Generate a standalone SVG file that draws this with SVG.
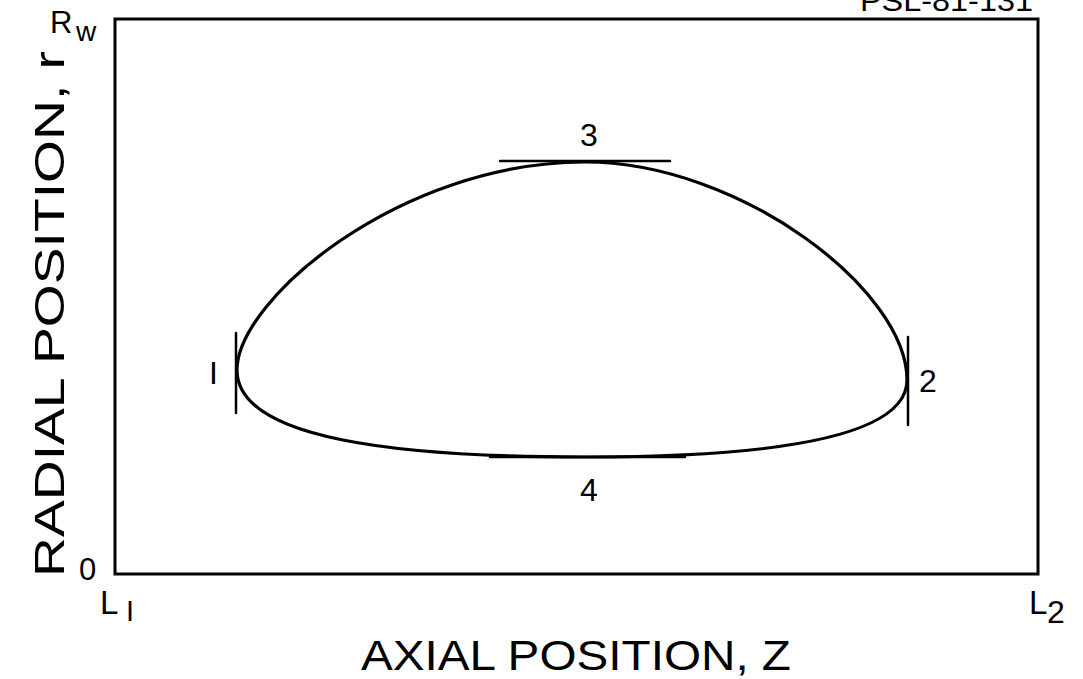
<svg xmlns="http://www.w3.org/2000/svg" width="1083" height="679" viewBox="0 0 1083 679">
<style>
text{font-family:"Liberation Sans","DejaVu Sans",sans-serif;fill:#000}
.big{font-size:42px}
.lbl{font-size:32px}
.ln{stroke:#000;fill:none;stroke-linecap:round}
</style>
<rect width="1083" height="679" fill="#fff"/>
<g id="frame">
<rect x="115" y="19" width="923" height="555" class="ln" stroke-width="3"/>
</g>
<g id="axis-labels">
<text x="860" y="11" font-size="30" textLength="173" lengthAdjust="spacingAndGlyphs">PSL-81-131</text>
<text x="50" y="33" font-size="31">R</text>
<text x="76" y="41" font-size="28">w</text>
<text x="79" y="580" font-size="31">0</text>
<text x="100" y="614" font-size="33">L</text>
<text x="126" y="621" font-size="29">I</text>
<text x="1029" y="614" font-size="33">L</text>
<text x="1047" y="623" font-size="32">2</text>
<text class="big" x="576" y="670" text-anchor="middle" textLength="430" lengthAdjust="spacingAndGlyphs">AXIAL POSITION, Z</text>
<text class="big" transform="translate(64,314) rotate(-90)" text-anchor="middle" textLength="526" lengthAdjust="spacingAndGlyphs">RADIAL POSITION, r</text>
</g>
<g id="curve">
<path class="ln" stroke-width="3.2" d="M237,370 C237,300 400,162 585,162 C740,162 907,290 907,380 C907,440 760,457 585,457 C400,457 237,440 237,370 Z"/>
</g>
<g id="connectors">
<line class="ln" stroke-width="2.5" x1="236" y1="333" x2="236" y2="413"/>
<line class="ln" stroke-width="2.5" x1="908" y1="337" x2="908" y2="425"/>
<line class="ln" stroke-width="2.5" x1="500" y1="161" x2="670" y2="161"/>
<line class="ln" stroke-width="2.5" x1="490" y1="457" x2="685" y2="457"/>
</g>
<g id="p1"><text class="lbl" x="209" y="384">I</text></g>
<g id="p2"><text class="lbl" x="919" y="392">2</text></g>
<g id="p3"><text class="lbl" x="589" y="146" text-anchor="middle">3</text></g>
<g id="p4"><text class="lbl" x="589" y="501" text-anchor="middle">4</text></g>
</svg>
